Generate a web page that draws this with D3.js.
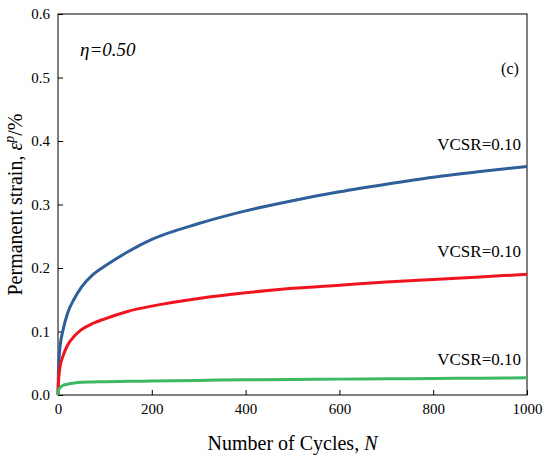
<!DOCTYPE html>
<html><head><meta charset="utf-8">
<script src="https://cdn.jsdelivr.net/npm/d3@7"></script>
<style>body{margin:0;background:#fff}text{font-family:"Liberation Serif","Times New Roman",serif}</style>
</head><body><svg id="c" width="550" height="461"></svg>
<script>
// values
const cycles = [0, 1, 2, 5, 10, 20, 35, 50, 75, 100, 150, 200, 300, 400, 500, 600, 700, 800, 900, 1000];
const blue  = [0, 0.04, 0.055, 0.08, 0.10, 0.128, 0.152, 0.17, 0.19, 0.203, 0.226, 0.245, 0.27, 0.29, 0.306, 0.32, 0.332, 0.343, 0.352, 0.36];
const red   = [0, 0.02, 0.03, 0.047, 0.06, 0.078, 0.093, 0.103, 0.113, 0.12, 0.132, 0.14, 0.152, 0.161, 0.168, 0.173, 0.178, 0.182, 0.186, 0.19];
const green = [0, 0.006, 0.009, 0.012, 0.015, 0.017, 0.019, 0.02, 0.0205, 0.021, 0.0215, 0.022, 0.023, 0.024, 0.0245, 0.025, 0.0255, 0.026, 0.0265, 0.027];
const series = [
  {vals: blue,  color: "#2e5f9a", label: "VCSR=0.10", ly: 150},
  {vals: red,   color: "#f0141e", label: "VCSR=0.10", ly: 257},
  {vals: green, color: "#3cb964", label: "VCSR=0.10", ly: 365}
];
const xTicks = [0, 200, 400, 600, 800, 1000];
const yTicks = [0, 0.1, 0.2, 0.3, 0.4, 0.5, 0.6];

const svg = d3.select("#c");
const m = {l: 58, r: 23, t: 14, b: 66};
const W = 550, H = 461;
const x = d3.scaleLinear().domain([0, 1000]).range([m.l, W - m.r]);
const y = d3.scaleLinear().domain([0, 0.6]).range([H - m.b, m.t]);

const gx = svg.append("g").attr("transform", `translate(0,${H - m.b})`)
  .call(d3.axisBottom(x).tickValues(xTicks).tickFormat(d3.format("d")).tickSizeInner(-5).tickSizeOuter(0).tickPadding(8));
const gy = svg.append("g").attr("transform", `translate(${m.l},0)`)
  .call(d3.axisLeft(y).tickValues(yTicks).tickFormat(d3.format(".1f")).tickSizeInner(-5).tickSizeOuter(0).tickPadding(8));
[gx, gy].forEach(g => {
  g.attr("font-family", "Liberation Serif").attr("font-size", 15);
  g.selectAll("text").attr("fill", "#000");
  g.select(".domain").remove();
  g.selectAll("line").attr("stroke", "#000");
});
svg.append("rect").attr("x", m.l).attr("y", m.t).attr("width", W - m.l - m.r).attr("height", H - m.t - m.b)
  .attr("fill", "none").attr("stroke", "#000").attr("stroke-width", 1);

const line = d3.line().x((d, i) => x(cycles[i])).y(d => y(d)).curve(d3.curveMonotoneX);
series.forEach(s => {
  svg.append("path").datum(s.vals).attr("d", line).attr("fill", "none")
    .attr("stroke", s.color).attr("stroke-width", 3);
  svg.append("text").attr("x", 521).attr("y", s.ly).attr("text-anchor", "end")
    .attr("font-size", 17).text(s.label);
});

svg.append("text").attr("x", 80).attr("y", 56).attr("font-size", 19).attr("font-style", "italic")
  .text("η=0.50");
svg.append("text").attr("x", 510).attr("y", 74).attr("font-size", 16).attr("text-anchor", "middle").text("(c)");

svg.append("text").attr("x", (m.l + W - m.r) / 2).attr("y", 450).attr("text-anchor", "middle")
  .attr("font-size", 20).html('Number of Cycles, <tspan font-style="italic">N</tspan>');
svg.append("text").attr("transform", `translate(22,${(m.t + H - m.b) / 2}) rotate(-90)`).attr("text-anchor", "middle")
  .attr("font-size", 20).html('Permanent strain, <tspan font-style="italic">ε</tspan><tspan font-style="italic" dy="-8" font-size="14">p</tspan><tspan dy="8">/%</tspan>');
</script></body></html>
